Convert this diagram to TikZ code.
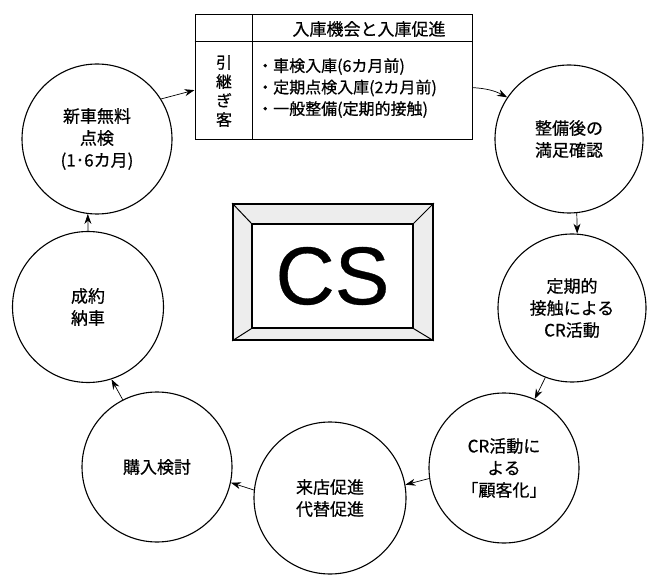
\documentclass[tikz,border=0pt]{standalone}
\usepackage{fontspec}
\newfontfamily\jp[FakeBold=0.6]{Noto Sans CJK JP}
\newfontfamily\csfont[FakeBold=0.4]{Liberation Sans}
\usetikzlibrary{arrows.meta,calc}
\begin{document}
\begin{tikzpicture}[x=1pt,y=-1pt,
  circ/.style={draw,circle,inner sep=0pt,line width=1.1pt,align=center,
    font=\jp\fontsize{17}{22}\selectfont},
  arr/.style={-{Stealth[length=10pt,width=7pt]},line width=0.7pt},
  tabtext/.style={inner sep=0pt,font=\jp\fontsize{16}{21.5}\selectfont}]
\useasboundingbox (0,0) rectangle (648,577);
% circles
\node[circ,minimum size=150pt] (A) at (97,139) {新車無料\\点検\\(1･6カ月)};
\node[circ,minimum size=151pt] (B) at (88,307) {成約\\納車};
\node[circ,minimum size=150pt] (C) at (157,467) {購入検討};
\node[circ,minimum size=152pt] (D) at (330,498) {来店促進\\代替促進};
\node[circ,minimum size=150pt] (E) at (504,468) {CR活動に\\よる\\「顧客化」};
\node[circ,minimum size=148pt] (F) at (572,308) {定期的\\接触による\\CR活動};
\node[circ,minimum size=148pt] (G) at (569,139) {整備後の\\満足確認};
% table
\node[draw,line width=1pt,minimum width=277pt,minimum height=125pt,inner sep=0pt] (T) at (333.5,77.5) {};
\draw[line width=1pt] (T.north west) ++(0,27) -- ++(277,0);
\draw[line width=1pt] (T.north west) ++(58,0) -- ++(0,125);
\node[tabtext,font=\jp\fontsize{17}{20}\selectfont] (hdr) at (369,29) {入庫機会と入庫促進};
\node[tabtext,align=center,font=\jp\fontsize{16}{19}\selectfont] (side) at (224,91) {引\\継\\ぎ\\客};
\node[tabtext,align=left,anchor=west] (items) at (257,88) {・車検入庫(6カ月前)\\・定期点検入庫(2カ月前)\\・一般整備(定期的接触)};
% CS frame
\node[draw,line width=1.8pt,fill=black!7,minimum width=200pt,minimum height=136pt,inner sep=0pt] (csout) at (333,272) {};
\node[draw,line width=1.3pt,fill=white,minimum width=161pt,minimum height=104pt,inner sep=0pt,
  font=\csfont\fontsize{82}{82}\selectfont] (csin) at (332.5,276) {CS};
\foreach \c in {north west,north east,south west,south east}
  \draw[line width=1pt] (csout.\c) -- (csin.\c);
% arrows
\draw[arr] (B.north) -- (A.263);
\draw[arr] (C.117) -- (B.288);
\draw[arr] (D.174) -- (C.348);
\draw[arr] (E.188) -- (D.10);
\draw[arr] (F.249) -- (E.66);
\draw[arr] (G.276) -- (F.86);
\draw[arr] (A.32) -- ($(T.north west)!0.6!(T.south west)$);
\draw[arr] ($(T.north east)!0.58!(T.south east)$) to[bend left=12] (G.146);
\end{tikzpicture}
\end{document}
